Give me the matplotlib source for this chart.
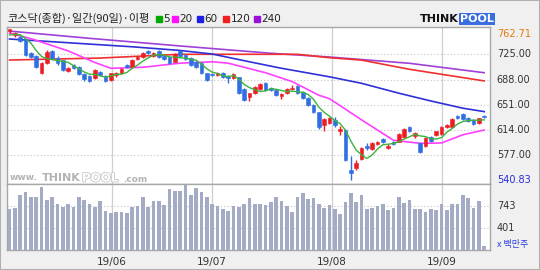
import numpy as np
import pandas as pd
import matplotlib
matplotlib.use('Agg')
import matplotlib.pyplot as plt
from matplotlib.patches import Rectangle
import matplotlib.patheffects as pe

plt.rcParams['font.family'] = ['Noto Sans CJK KR', 'DejaVu Sans']

# daily candles, 90 trading days (May ~ Sep 2019)
opens = [759.0, 753.0, 750.0, 747.0, 727.0, 722.5, 698.0, 712.7, 730.0, 720.0,
         716.0, 701.0, 709.0, 707.0, 696.0, 693.0, 690.0, 699.0, 693.0, 687.0,
         694.0, 697.0, 710.0, 707.0, 718.6, 721.5, 730.0, 722.5, 730.0, 722.5,
         721.5, 714.0, 730.3, 724.0, 719.6, 713.7, 712.0, 697.0, 696.0, 694.0,
         697.0, 693.0, 690.0, 691.0, 673.7, 663.0, 668.0, 674.0, 682.5, 676.0,
         672.7, 664.0, 668.0, 674.0, 678.5, 670.0, 661.0, 651.0, 640.0, 621.0,
         624.0, 629.0, 612.0, 614.0, 556.0, 559.0, 571.0, 591.0, 586.0, 594.0,
         601.0, 588.0, 596.5, 597.0, 604.0, 618.0, 605.0, 595.0, 590.0, 604.0,
         607.0, 608.0, 619.0, 619.0, 634.0, 637.5, 631.6, 628.7, 625.0, 634.6]
closes = [762.0, 755.5, 745.0, 724.0, 721.0, 707.0, 712.0, 729.0, 718.0, 712.5,
          702.0, 704.6, 704.5, 696.0, 688.4, 686.0, 702.0, 695.0, 686.0, 697.0,
          698.0, 703.5, 707.0, 716.6, 720.6, 727.4, 726.5, 727.4, 720.6, 717.7,
          712.7, 726.0, 722.5, 718.0, 709.0, 706.4, 697.6, 688.0, 694.0, 697.0,
          692.0, 690.5, 696.0, 668.0, 658.0, 668.0, 676.7, 681.5, 672.7, 673.0,
          665.0, 667.0, 674.0, 676.0, 668.0, 661.0, 651.0, 640.0, 618.0, 630.0,
          632.0, 621.0, 615.7, 569.8, 551.5, 565.0, 587.0, 588.0, 595.0, 596.0,
          596.0, 591.0, 593.6, 608.0, 615.0, 613.0, 609.0, 582.0, 603.0, 598.0,
          612.0, 619.0, 622.0, 630.0, 631.0, 630.0, 627.7, 623.0, 631.0, 632.7]
highs = [762.71, 758.0, 752.0, 748.0, 729.0, 724.0, 713.0, 731.0, 732.0, 722.0,
         717.0, 707.0, 710.5, 708.0, 697.0, 694.0, 703.0, 701.0, 694.5, 698.0,
         699.5, 705.0, 711.5, 717.5, 722.0, 728.5, 731.5, 728.5, 731.0, 724.0,
         722.5, 727.5, 732.0, 725.5, 720.5, 715.0, 713.0, 698.0, 698.0, 698.5,
         698.5, 694.5, 697.0, 692.0, 675.0, 669.0, 678.0, 683.0, 684.0, 677.5,
         674.0, 668.5, 675.0, 680.0, 680.0, 671.0, 662.0, 652.0, 641.0, 631.0,
         633.5, 633.0, 620.0, 615.5, 576.0, 570.0, 589.0, 595.0, 596.0, 598.0,
         602.5, 593.0, 598.0, 609.0, 616.5, 619.5, 611.0, 596.5, 604.0, 605.5,
         613.0, 620.0, 623.5, 631.5, 635.5, 639.0, 633.0, 630.0, 632.0, 636.0]
lows = [756.0, 751.0, 743.0, 722.0, 719.0, 705.0, 696.0, 711.0, 716.0, 710.0,
        700.0, 699.5, 703.0, 694.5, 686.0, 684.0, 688.5, 693.0, 684.5, 685.5,
        692.0, 696.0, 705.5, 706.0, 717.0, 720.0, 725.0, 721.0, 719.0, 716.0,
        711.0, 713.0, 721.0, 716.5, 707.5, 705.0, 696.0, 686.5, 692.5, 692.5,
        690.5, 683.0, 689.0, 667.0, 656.5, 656.0, 667.0, 673.0, 671.5, 671.0,
        663.5, 659.0, 667.0, 672.5, 667.0, 659.5, 649.5, 638.5, 616.0, 612.0,
        622.5, 619.0, 607.0, 568.5, 540.83, 555.0, 570.0, 584.0, 584.5, 592.0,
        595.0, 586.0, 592.0, 596.0, 603.0, 611.5, 603.0, 580.5, 589.0, 596.5,
        605.5, 607.0, 617.5, 618.0, 629.5, 628.5, 626.0, 621.5, 623.5, 631.5]
# trading volume, million shares
volumes = [690, 717, 907, 955, 891, 891, 1034, 833, 891, 780,
           727, 780, 727, 880, 833, 780, 727, 822, 664, 638,
           654, 654, 627, 727, 743, 880, 727, 822, 822, 754,
           1007, 970, 970, 1070, 907, 1023, 955, 891, 770, 743,
           690, 664, 743, 727, 770, 864, 770, 780, 754, 807,
           880, 822, 743, 654, 880, 944, 849, 864, 780, 706,
           759, 690, 611, 807, 944, 812, 907, 690, 706, 743,
           780, 680, 706, 891, 796, 833, 690, 701, 648, 690,
           680, 780, 680, 770, 780, 918, 864, 706, 817, 120]
# closes of the 4 days before the window (for the 5-day line)
pre_closes = [750.0, 748.0, 752.0, 754.0]

# longer moving averages (day index, value)
ma20_day = [0, 4, 11, 16, 19, 25, 32, 38, 41, 48, 53, 58, 60, 66, 72, 77, 81, 85, 89]
ma20_val = [756.0, 748.0, 730.0, 713.0, 704.5, 706.0, 712.0, 714.0, 712.0, 698.0,
            685.0, 665.0, 660.0, 629.0, 599.0, 594.5, 595.0, 607.0, 614.0]
ma60_day = [0, 23, 32, 38, 45, 51, 60, 66, 73, 79, 85, 89]
ma60_val = [747.4, 736.0, 730.6, 725.4, 714.0, 704.5, 692.0, 682.5, 668.0, 656.6, 646.0, 641.0]
ma120_day = [0, 17, 32, 54, 60, 66, 75, 89]
ma120_val = [716.6, 719.5, 725.0, 725.0, 720.0, 716.5, 703.0, 686.0]
ma240_day = [0, 15, 32, 49, 60, 75, 89]
ma240_val = [759.0, 748.4, 737.2, 726.5, 721.0, 711.8, 698.0]

month_pos = [19.2, 38.0, 60.5, 81.1]
month_labels = ['19/06', '19/07', '19/08', '19/09']
price_ticks = [725, 688, 651, 614, 577]
vol_ticks = [743, 401]

RED = '#ee1d25'
BLUE = '#2f6fe3'
W, H = 540, 270


def fx(px):
    return px / W


def fy(py):
    return 1 - py / H


fig = plt.figure(figsize=(5.4, 2.7), dpi=100)
fig.patch.set_facecolor('#f0f0f0')

ax = fig.add_axes([fx(7), fy(184), fx(483), 157 / H])
axv = fig.add_axes([fx(7), fy(250), fx(483), 66 / H], sharex=ax)

for a in (ax, axv):
    a.set_facecolor('white')
    for s in a.spines.values():
        s.set_color('#a8a8a8')
        s.set_linewidth(1)
    a.tick_params(length=0, labelleft=False, labelright=False)
    for m in month_pos:
        a.axvline(m, color='#cfcfcf', lw=0.9, zorder=0)

# price panel
idx = np.arange(len(closes))
o = np.array(opens)
c = np.array(closes)
colors = np.where(c >= o, RED, BLUE)
ax.vlines(idx, lows, highs, colors=colors, lw=1, zorder=3)
ax.bar(idx, np.maximum(np.abs(c - o), 1.2), bottom=np.minimum(o, c),
       width=0.72, color=colors, edgecolor=colors, lw=0.4, zorder=4)

ma5 = pd.Series(pre_closes + closes).rolling(5).mean().iloc[4:].values
ax.plot(ma240_day, ma240_val, color='#a040d8', lw=1.2, zorder=2)
ax.plot(ma120_day, ma120_val, color='#ee3030', lw=1.2, zorder=2)
ax.plot(ma60_day, ma60_val, color='#3030d8', lw=1.2, zorder=2)
ax.plot(ma20_day, ma20_val, color='#ff40ff', lw=1.2, zorder=2)
ax.plot(idx, ma5, color='#3cb43c', lw=1.0, zorder=5)

ax.set_xlim(-0.47, 90.1)
ax.set_ylim(534.9, 765.0)
ax.set_yticks(price_ticks)
ax.set_xticks(month_pos)
ax.tick_params(labelbottom=False)
ax.grid(axis='y', color='#c4c4c4', lw=0.8, linestyle=(0, (1, 2)))
ax.grid(axis='x', visible=False)

ytr = ax.get_yaxis_transform()
ax.text(1.014, max(highs), f'{max(highs):.2f}', transform=ytr, ha='left',
        va='top', fontsize=7, color='#e07a10', family='DejaVu Sans')
ax.text(1.014, min(lows), f'{min(lows):.2f}', transform=ytr, ha='left',
        va='center', fontsize=7, color='#2a2ae0', family='DejaVu Sans')
for t in price_ticks:
    ax.text(1.014, t, f'{t:.2f}', transform=ytr, ha='left', va='center',
            fontsize=7, color='#333333', family='DejaVu Sans')

# volume panel
axv.bar(idx, volumes, width=0.7, color='#a4abc4', zorder=3)
axv.set_ylim(57, 1086)
axv.set_yticks(vol_ticks)
axv.grid(axis='y', color='#c4c4c4', lw=0.8, linestyle=(0, (1, 2)))
axv.set_xticks(month_pos)
axv.set_xticklabels(month_labels, family='DejaVu Sans', fontsize=7.5, color='#333333')
axv.tick_params(axis='x', pad=5)
vtr = axv.get_yaxis_transform()
for t in vol_ticks:
    axv.text(1.014, t, str(t), transform=vtr, ha='left', va='center',
             fontsize=7, color='#333333', family='DejaVu Sans')
fig.text(fx(497), fy(244), 'x 백만주', fontsize=6.5, color='#2a3ee0',
         ha='left', va='center')

# title and legend
fig.text(fx(7), fy(18), '코스닥(종합)·일간(90일)·이평', fontsize=8,
         color='#222222', ha='left', va='center')
legend = [('5', '#00a800', 155.7), ('20', '#ff10ff', 171.7), ('60', '#2020e0', 197),
          ('120', '#f02020', 223), ('240', '#9a10d8', 254)]
for lab, col, lx in legend:
    fig.add_artist(Rectangle((fx(lx), fy(22)), fx(6), 6.5 / H, color=col,
                             transform=fig.transFigure))
    fig.text(fx(lx + 7.5), fy(18.5), lab, fontsize=7.5, color='#222222',
             ha='left', va='center', family='DejaVu Sans')

# logo
fig.text(fx(420), fy(19), 'THINK', fontsize=8, fontweight='heavy',
         family='DejaVu Sans', color='#111111', ha='left', va='center')
fig.text(fx(460), fy(19), 'POOL', fontsize=8, fontweight='heavy',
         family='DejaVu Sans', color='white', ha='left', va='center',
         bbox=dict(boxstyle='square,pad=0.12', fc='#3a6ee0', ec='none'))

# watermark
wm = '#b4b4b4'
fig.text(fx(10), fy(178), 'www.', fontsize=6.5, color=wm, ha='left',
         va='center', family='DejaVu Sans', fontweight='bold')
fig.text(fx(42), fy(178), 'THINK', fontsize=8, color=wm, ha='left',
         va='center', family='DejaVu Sans', fontweight='heavy')
fig.text(fx(82), fy(178), 'POOL', fontsize=8.5, color='white', ha='left',
         va='center', family='DejaVu Sans', fontweight='heavy',
         path_effects=[pe.withStroke(linewidth=1.2, foreground='#c8c8c8')])
fig.text(fx(123), fy(179), '.com', fontsize=6.5, color=wm, ha='left',
         va='center', family='DejaVu Sans', fontweight='bold')

fig.add_artist(Rectangle((0, 0), 1, 1, fill=False, ec='#b0b0b0', lw=1.5,
                         transform=fig.transFigure))

fig.savefig('out.png', dpi=100, facecolor=fig.get_facecolor())
